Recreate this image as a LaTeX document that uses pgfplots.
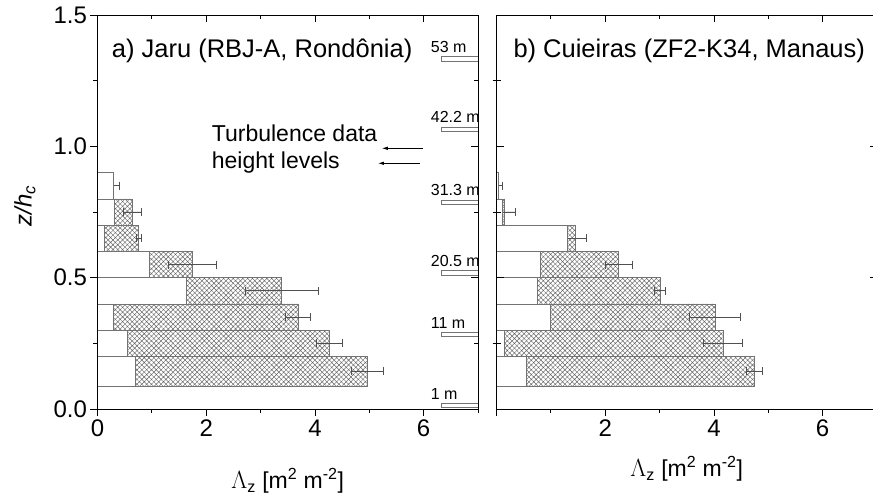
\documentclass[border=0pt]{standalone}
\usepackage{pgfplots}
\pgfplotsset{compat=1.18}
\usepackage{fontspec}
\setmainfont{Liberation Sans}
\usetikzlibrary{patterns.meta, arrows.meta}

\definecolor{bargray}{RGB}{115,115,115}
\definecolor{hatchgray}{RGB}{100,100,100}
\definecolor{errgray}{RGB}{80,80,80}

\tikzset{lvl/.style={anchor=base west, inner sep=0pt, font=\fontsize{16}{16}\selectfont}}

\pgfplotsset{
  panel/.style={scale only axis, width=380.5pt, height=394pt,
    xmin=0, xmax=7, ymin=0, ymax=1.5,
    xtick={0,2,4,6}, minor xtick={1,3,5,7},
    ytick={0,0.5,1,1.5}, minor ytick={0.25,0.75,1.25},
    major tick length=7pt, minor tick length=4pt,
    axis line style={line width=0.9pt},
    every tick/.style={black, line width=0.8pt},
    tick label style={font=\fontsize{24}{24}\selectfont},
    /pgf/number format/assume math mode=true,
    yticklabel style={/pgf/number format/.cd, fixed, fixed zerofill, precision=1}},
  hatched/.style={xbar, bar shift=0pt, draw=bargray, line width=0.7pt,
    pattern={Hatch[angle=45,distance=3.4pt,line width=0.45pt]}, pattern color=hatchgray,
    /pgfplots/error bars/x dir=both, /pgfplots/error bars/x explicit,
    /pgfplots/error bars/error bar style={errgray, line width=0.6pt},
    /pgfplots/error bars/error mark options={errgray, rotate=90, mark size=4pt, line width=0.6pt}},
  whitebar/.style={xbar, bar shift=0pt, draw=bargray, line width=0.7pt, fill=white},
  levelbar/.style={draw=bargray, fill=white, line width=0.7pt}
}

\begin{document}
\begin{tikzpicture}
% ---------------- panel a ----------------
\begin{axis}[panel, at={(0pt,0pt)}, anchor=south west,
  tick align=outside, xtick pos=left, ytick pos=left]
  % hatched (total) bars, layers 0.2--0.9
  \addplot[hatched, bar width=0.1] coordinates {
    (0.30,0.85) +- (0.10,0)
    (0.64,0.75) +- (0.16,0)
    (0.76,0.65) +- (0.05,0)
    (1.74,0.55) +- (0.44,0)
    (3.39,0.45) +- (0.68,0)
    (3.69,0.35) +- (0.23,0)
    (4.26,0.25) +- (0.24,0)
  };
  \addplot[hatched, bar width=0.112] coordinates {(4.96,0.144) +- (0.30,0)};
  % white bars
  \addplot[whitebar, bar width=0.1] coordinates {
    (0.30,0.85) (0.31,0.75) (0.12,0.65) (0.95,0.55)
    (1.63,0.45) (0.29,0.35) (0.55,0.25)
  };
  \addplot[whitebar, bar width=0.112] coordinates {(0.69,0.144)};
  % turbulence measurement levels (z/h_c)
  \addplot[levelbar] coordinates {(6.33,1.322) (7,1.322) (7,1.341) (6.33,1.341)} --cycle;
  \addplot[levelbar] coordinates {(6.33,1.056) (7,1.056) (7,1.072) (6.33,1.072)} --cycle;
  \addplot[levelbar] coordinates {(6.33,0.780) (7,0.780) (7,0.796) (6.33,0.796)} --cycle;
  \addplot[levelbar] coordinates {(6.33,0.510) (7,0.510) (7,0.526) (6.33,0.526)} --cycle;
  \addplot[levelbar] coordinates {(6.33,0.275) (7,0.275) (7,0.290) (6.33,0.290)} --cycle;
  \addplot[levelbar] coordinates {(6.33,0.006) (7,0.006) (7,0.022) (6.33,0.022)} --cycle;
  \node[lvl] at (axis cs:6.13,1.359) {53 m};
  \node[lvl] at (axis cs:6.13,1.090) {42.2 m};
  \node[lvl] at (axis cs:6.13,0.814) {31.3 m};
  \node[lvl] at (axis cs:6.13,0.544) {20.5 m};
  \node[lvl] at (axis cs:6.13,0.308) {11 m};
  \node[lvl] at (axis cs:6.13,0.038) {1 m};
  \draw[-{Latex[length=6pt,width=3.5pt]}, line width=0.8pt] (axis cs:5.98,0.9925) -- (axis cs:5.23,0.9925);
  \draw[-{Latex[length=6pt,width=3.5pt]}, line width=0.8pt] (axis cs:5.93,0.9354) -- (axis cs:5.16,0.9354);
\end{axis}
\begin{axis}[panel, at={(0pt,0pt)}, anchor=south west,
  tick align=inside, xtick pos=right, ytick pos=right,
  xticklabels={}, yticklabels={}]
\end{axis}
% ---------------- panel b ----------------
\begin{axis}[panel, at={(399pt,0pt)}, anchor=south west,
  tick align=outside, xtick pos=left, ymajorticks=false, yminorticks=false,
  xticklabels={,2,4,6}]
  \addplot[hatched, bar width=0.1] coordinates {
    (0.04,0.85) +- (0.07,0)
    (0.15,0.75) +- (0.19,0)
    (1.45,0.65) +- (0.20,0)
    (2.25,0.55) +- (0.24,0)
    (3.01,0.45) +- (0.10,0)
    (4.02,0.35) +- (0.47,0)
    (4.17,0.25) +- (0.36,0)
  };
  \addplot[hatched, bar width=0.112] coordinates {(4.74,0.144) +- (0.15,0)};
  \addplot[whitebar, bar width=0.1] coordinates {
    (0.03,0.85) (0.10,0.75) (1.30,0.65) (0.80,0.55)
    (0.75,0.45) (0.99,0.35) (0.15,0.25)
  };
  \addplot[whitebar, bar width=0.112] coordinates {(0.55,0.144)};
\end{axis}
\begin{axis}[panel, at={(399pt,0pt)}, anchor=south west,
  tick align=inside, xtick pos=right, ytick pos=both,
  xticklabels={}, yticklabels={}]
\end{axis}
% ---------------- text ----------------
\node[anchor=base west, inner sep=0pt, font=\fontsize{25.5}{25.5}\selectfont] at (14.2pt,351.3pt) {a) Jaru (RBJ-A, Rondônia)};
\node[anchor=base west, inner sep=0pt, font=\fontsize{25.5}{25.5}\selectfont] at (415.8pt,351.3pt) {b) Cuieiras (ZF2-K34, Manaus)};
\node[anchor=base west, inner sep=0pt, font=\fontsize{23}{23}\selectfont] at (114.2pt,267.3pt) {Turbulence data};
\node[anchor=base west, inner sep=0pt, font=\fontsize{23}{23}\selectfont] at (114.2pt,240.5pt) {height levels};
\node[anchor=base, inner sep=0pt, font=\fontsize{23}{23}\selectfont] at (190.25pt,-80pt) {$\Lambda$\textsubscript{z} [m\textsuperscript{2} m\textsuperscript{-2}]};
\node[anchor=base, inner sep=0pt, font=\fontsize{23}{23}\selectfont] at (589.25pt,-68pt) {$\Lambda$\textsubscript{z} [m\textsuperscript{2} m\textsuperscript{-2}]};
\node[rotate=90, inner sep=0pt, font=\fontsize{24}{24}\selectfont] at (-72.5pt,203pt) {\textit{z/h}\textsubscript{\textit{c}}};
\pgfresetboundingbox
\path[use as bounding box] (-97.5pt,-93pt) rectangle (775.5pt,409pt);
\end{tikzpicture}
\end{document}
